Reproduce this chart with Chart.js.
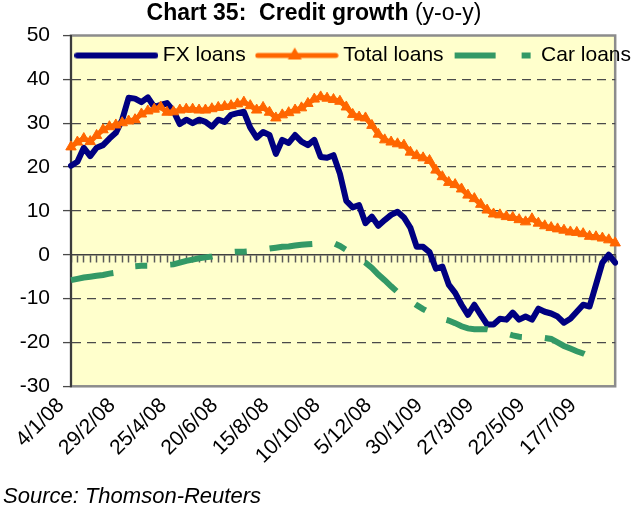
<!DOCTYPE html>
<html>
<head>
<meta charset="utf-8">
<script src="https://cdn.jsdelivr.net/npm/chart.js@4.4.1/dist/chart.umd.min.js"></script>
<style>
  html, body { margin: 0; padding: 0; background: #fff; }
  #chart { display: block; }
</style>
</head>
<body>
<canvas id="chart" width="640" height="510"></canvas>
<script>
/* Credit growth, y-o-y %, weekly observations */

const FONT = "'Liberation Sans', Arial, Helvetica, sans-serif";

const titleBold   = 'Chart 35:  Credit growth ';
const titleNormal = '(y-o-y)';
const sourceText  = 'Source: Thomson-Reuters';

const weeks = [
  '4/1/08','11/1/08','18/1/08','25/1/08','1/2/08','8/2/08','15/2/08','22/2/08','29/2/08',
  '7/3/08','14/3/08','21/3/08','28/3/08','4/4/08','11/4/08','18/4/08','25/4/08',
  '2/5/08','9/5/08','16/5/08','23/5/08','30/5/08','6/6/08','13/6/08','20/6/08','27/6/08',
  '4/7/08','11/7/08','18/7/08','25/7/08','1/8/08','8/8/08','15/8/08','22/8/08','29/8/08',
  '5/9/08','12/9/08','19/9/08','26/9/08','3/10/08','10/10/08','17/10/08','24/10/08','31/10/08',
  '7/11/08','14/11/08','21/11/08','28/11/08','5/12/08','12/12/08','19/12/08','26/12/08',
  '2/1/09','9/1/09','16/1/09','23/1/09','30/1/09','6/2/09','13/2/09','20/2/09','27/2/09',
  '6/3/09','13/3/09','20/3/09','27/3/09','3/4/09','10/4/09','17/4/09','24/4/09',
  '1/5/09','8/5/09','15/5/09','22/5/09','29/5/09','5/6/09','12/6/09','19/6/09','26/6/09',
  '3/7/09','10/7/09','17/7/09','24/7/09','31/7/09','7/8/09','14/8/09','21/8/09'
];

const tickLabels = ['4/1/08','29/2/08','25/4/08','20/6/08','15/8/08','10/10/08',
                    '5/12/08','30/1/09','27/3/09','22/5/09','17/7/09'];

const fxLoans = [
  20.3, 21.2, 24.4, 22.5, 24.4, 25.0, 26.5, 27.8, 30.8, 35.8,
  35.6, 34.8, 35.9, 33.7, 34.2, 34.6, 32.8, 29.8, 30.8, 30.0,
  30.8, 30.3, 29.2, 30.8, 30.3, 31.9, 32.3, 32.6, 29.0, 26.7,
  28.0, 27.3, 23.0, 26.2, 25.5, 27.3, 25.8, 25.0, 26.2, 22.3,
  22.1, 22.7, 18.5, 12.3, 10.8, 11.3, 7.2, 8.7, 6.6, 7.9,
  9.1, 9.8, 8.5, 6.2, 1.8, 1.8, 0.6, -3.2, -2.7, -6.8,
  -8.7, -11.4, -13.7, -11.4, -13.7, -15.9, -15.9, -14.6, -14.8, -13.2,
  -14.8, -14.1, -14.8, -12.3, -13.0, -13.4, -14.1, -15.5, -14.6, -13.0,
  -11.4, -11.8, -6.8, -1.8, 0.0, -1.8
];

const totalLoans = [
  24.6, 25.7, 26.5, 25.8, 27.2, 28.5, 29.2, 29.6, 30.1, 30.5,
  30.8, 32.1, 32.8, 33.2, 33.7, 32.5, 32.6, 33.0, 33.2, 33.2,
  33.0, 33.0, 33.3, 33.6, 33.8, 34.0, 34.4, 34.8, 34.0, 33.0,
  33.6, 32.5, 31.2, 31.9, 32.4, 33.0, 33.5, 34.5, 35.5, 36.0,
  35.7, 35.4, 35.0, 33.7, 32.0, 31.4, 31.2, 29.5, 27.5, 26.2,
  25.7, 25.3, 25.0, 23.4, 22.6, 22.1, 21.5, 19.3, 17.8, 16.5,
  16.0, 15.0, 13.6, 12.8, 11.5, 10.2, 9.3, 9.1, 8.7, 8.5,
  8.0, 7.5, 8.2, 7.2, 6.6, 6.2, 5.9, 5.6, 5.2, 5.1,
  4.8, 4.2, 4.1, 3.8, 3.4, 2.7
];

const carLoans = [
  -5.8, -5.5, -5.2, -5.0, -4.8, -4.6, -4.3, -4.1, -3.5, -3.0,
  -2.6, -2.5, -2.5, -2.4, -2.4, -2.3, -2.2, -1.8, -1.4, -1.1,
  -0.8, -0.6, -0.4, 0.0, 0.4, 0.6, 0.7, 0.7, 0.8, 1.0,
  1.2, 1.4, 1.6, 1.8, 1.9, 2.1, 2.3, 2.4, 2.5, 2.6,
  2.7, 2.7, 2.0, 1.1, 0.1, -0.9, -1.8, -3.0, -4.5, -5.8,
  -7.2, -8.5, -9.5, -10.5, -11.5, -12.4, -13.2, -14.0, -14.6, -15.0,
  -15.6, -16.3, -16.8, -17.0, -17.0, -17.0, -17.3, -17.6, -18.0, -18.4,
  -18.7, -18.8, -18.9, -19.0, -19.0, -19.2, -20.0, -20.8, -21.4, -22.0,
  -22.5, -23.2, null, null, null, null
];

const NAVY   = '#000080';
const ORANGE = '#FF6600';
const GREEN  = '#339966';
const CAR_DASH = [43, 23, 12, 23];

// small canvases used as legend swatches (line, line + triangle, dashed line)
function swatch(kind) {
  const c = document.createElement('canvas');
  c.width = 84; c.height = 20;
  const g = c.getContext('2d');
  const y = 10;
  if (kind === 'fx') {
    g.strokeStyle = NAVY; g.lineWidth = 6; g.lineCap = 'round';
    g.beginPath(); g.moveTo(3, y); g.lineTo(81, y); g.stroke();
  } else if (kind === 'total') {
    g.strokeStyle = ORANGE; g.fillStyle = ORANGE; g.lineWidth = 5; g.lineCap = 'round';
    g.beginPath(); g.moveTo(3, y); g.lineTo(81, y); g.stroke();
    const r = 8;
    g.beginPath();
    g.moveTo(40, y - r);
    g.lineTo(40 + r * 0.866, y + r / 2);
    g.lineTo(40 - r * 0.866, y + r / 2);
    g.closePath(); g.fill();
  } else {
    g.strokeStyle = GREEN; g.lineWidth = 6; g.setLineDash([41, 26, 9, 26]);
    g.beginPath(); g.moveTo(2, y); g.lineTo(84, y); g.stroke();
  }
  return c;
}

const legendEntries = [
  { text: 'FX loans',    kind: 'fx' },
  { text: 'Total loans', kind: 'total' },
  { text: 'Car loans',   kind: 'car' }
];

// legend sits inside the plot area: no height during layout, real box restored for drawing
const legendOverlay = {
  id: 'legendOverlay',
  beforeInit(chart) {
    const fit = chart.legend.fit;
    chart.legend.fit = function () { fit.call(this); this.height = 0; };
  },
  afterLayout(chart) {
    const lg = chart.legend;
    lg.top = 30;
    lg.height = 40;
    lg.bottom = lg.top + 40;
    lg.right = 646;
    lg.width = lg.right - lg.left;
  }
};

const plotFrame = {
  id: 'plotFrame',
  beforeDraw(chart) {
    const { ctx, chartArea: a } = chart;
    ctx.save();
    ctx.fillStyle = '#FFFFCC';
    ctx.fillRect(a.left, a.top, a.width, a.height);
    ctx.strokeStyle = '#8c8c8c';
    ctx.lineWidth = 2.5;
    ctx.strokeRect(a.left, a.top, a.width, a.height);
    ctx.restore();
  }
};

// title mixes bold and regular weight on one line
const titleLine = {
  id: 'titleLine',
  afterDraw(chart) {
    const ctx = chart.ctx;
    const size = 23;
    ctx.save();
    ctx.textBaseline = 'middle';
    ctx.fillStyle = '#000';
    ctx.font = `bold ${size}px ${FONT}`;
    const w1 = ctx.measureText(titleBold).width;
    ctx.font = `${size}px ${FONT}`;
    const w2 = ctx.measureText(titleNormal).width;
    const x0 = 314 - (w1 + w2) / 2;
    ctx.font = `bold ${size}px ${FONT}`;
    ctx.fillText(titleBold, x0, 14);
    ctx.font = `${size}px ${FONT}`;
    ctx.fillText(titleNormal, x0 + w1, 14);
    ctx.restore();
  }
};

new Chart(document.getElementById('chart'), {
  type: 'line',
  data: {
    labels: weeks,
    datasets: [
      {
        label: 'FX loans', data: fxLoans, order: 2,
        borderColor: NAVY, borderWidth: 6, borderJoinStyle: 'round', borderCapStyle: 'round',
        pointRadius: 0, tension: 0, fill: false
      },
      {
        label: 'Total loans', data: totalLoans, order: 1,
        borderColor: ORANGE, borderWidth: 5, borderJoinStyle: 'round',
        pointStyle: 'triangle', pointRadius: 6, pointBackgroundColor: ORANGE,
        pointBorderColor: ORANGE, pointBorderWidth: 1, tension: 0, fill: false
      },
      {
        label: 'Car loans', data: carLoans, order: 0,
        borderColor: GREEN, borderWidth: 6, borderDash: CAR_DASH,
        pointRadius: 0, tension: 0, fill: false, spanGaps: false
      }
    ]
  },
  options: {
    responsive: false,
    animation: false,
    events: [],
    layout: { padding: { top: 35.5, left: 3, right: 3, bottom: 0 } },
    scales: {
      x: {
        type: 'category',
        position: 'bottom',
        offset: false,
        grid: { display: false, drawTicks: false },
        border: { display: false },
        ticks: {
          autoSkip: false, minRotation: 45, maxRotation: 45, padding: 7, labelOffset: -10,
          font: { family: FONT, size: 21 }, color: '#000',
          callback: (value, index) => tickLabels.includes(weeks[index]) ? weeks[index] : ''
        },
        afterFit(scale) { scale.height = 97.3; }
      },
      xZero: {
        type: 'category',
        axis: 'x',
        position: { y: 0 },
        offset: false,
        grid: {
          display: true, drawOnChartArea: false, drawTicks: true,
          tickLength: 7, tickColor: '#5a5a5a', tickWidth: 1.5
        },
        border: { display: true, color: '#404040', width: 1.5 },
        ticks: { display: false },
        afterFit(scale) { scale.height = 0; }
      },
      y: {
        min: -30, max: 50,
        ticks: { stepSize: 10, padding: 13, font: { family: FONT, size: 21 }, color: '#000' },
        grid: {
          color: (c) => [50, 0, -30].includes(c.tick.value) ? 'rgba(0,0,0,0)' : '#4a4a4a',
          lineWidth: 1.2, tickColor: '#4a4a4a', tickLength: 8, tickWidth: 1.3
        },
        border: { display: true, color: '#3c3c3c', width: 2, dash: [9, 6] },
        afterFit(scale) { scale.width = 68; }
      }
    },
    plugins: {
      tooltip: { enabled: false },
      title: { display: false },
      subtitle: {
        display: true, position: 'bottom', align: 'start', text: sourceText,
        color: '#000', padding: 0,
        font: { family: FONT, size: 22, style: 'italic', weight: 'normal' }
      },
      legend: {
        display: true, position: 'top', align: 'end',
        labels: {
          usePointStyle: true, pointStyleWidth: 72, padding: 15,
          color: '#000', font: { family: FONT, size: 21 },
          generateLabels: () => legendEntries.map((e, i) => ({
            text: e.text, pointStyle: swatch(e.kind), datasetIndex: i,
            hidden: false, lineWidth: 0, fontColor: '#000',
            strokeStyle: 'rgba(0,0,0,0)', fillStyle: 'rgba(0,0,0,0)'
          }))
        }
      }
    }
  },
  plugins: [legendOverlay, plotFrame, titleLine]
});
</script>
</body>
</html>
